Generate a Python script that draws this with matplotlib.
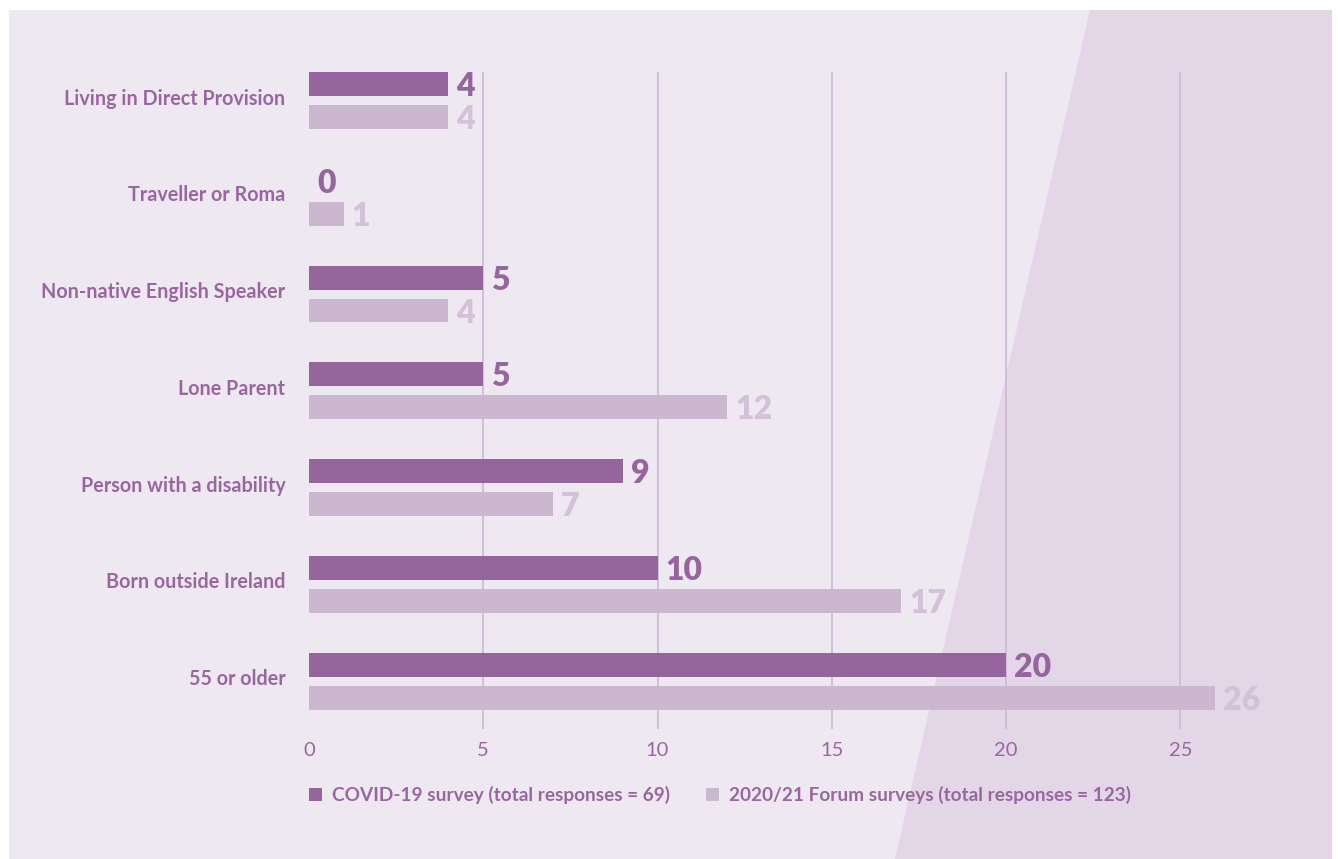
import matplotlib.pyplot as plt
from matplotlib.patches import Polygon, Patch
from matplotlib.transforms import ScaledTranslation

plt.rcParams['font.family'] = ['Lato', 'DejaVu Sans']

categories = ['Living in Direct Provision', 'Traveller or Roma', 'Non-native English Speaker',
              'Lone Parent', 'Person with a disability', 'Born outside Ireland', '55 or older']
covid = [4, 0, 5, 5, 9, 10, 20]
forum = [4, 1, 4, 12, 7, 17, 26]
xticks = [0, 5, 10, 15, 20, 25]
legend_labels = ['COVID-19 survey (total responses = 69)',
                 '2020/21 Forum surveys (total responses = 123)']

DARK = '#97659e'
LIGHT = '#cbb7d0'
LIGHT_TXT = '#d3c1d9'
TEXT = '#9a66a2'
PANEL = '#eee8f0'
SHADE = '#e2d6e7'
GRID = '#cdb8d6'

W, H = 1338, 859
fig = plt.figure(figsize=(W / 100, H / 100), dpi=100)
fig.patch.set_facecolor('white')

# background panel with the slanted band on the right
def px(x, y):
    return (x / W, 1 - y / H)

fig.patches.append(Polygon([px(9, 10), px(1332, 10), px(1332, 859), px(9, 859)],
                           closed=True, transform=fig.transFigure,
                           facecolor=PANEL, edgecolor='none', zorder=-2))
fig.patches.append(Polygon([px(1090, 10), px(1332, 10), px(1332, 859), px(895, 859)],
                           closed=True, transform=fig.transFigure,
                           facecolor=SHADE, edgecolor='none', zorder=-1))

ax = fig.add_axes([309 / W, 1 - 729 / H, 975.8 / W, 657 / H])
ax.patch.set_alpha(0)
for s in ax.spines.values():
    s.set_visible(False)

pos = list(range(len(categories)))
h = 0.248
off = 0.1705
b1 = ax.barh([p - off for p in pos], covid, height=h, color=DARK, zorder=3)
b2 = ax.barh([p + off for p in pos], forum, height=h, color=LIGHT, zorder=3)

for bar, v in zip(b1, covid):
    ax.annotate(str(v), (bar.get_width(), bar.get_y() + bar.get_height() / 2),
                xytext=(8, 0), textcoords='offset pixels', va='center_baseline',
                ha='left', fontsize=23, fontweight='heavy', color=DARK)
for bar, v in zip(b2, forum):
    ax.annotate(str(v), (bar.get_width(), bar.get_y() + bar.get_height() / 2),
                xytext=(8, 0), textcoords='offset pixels', va='center_baseline',
                ha='left', fontsize=23, fontweight='heavy', color=LIGHT_TXT)

# vertical guide lines (none at zero)
for t in xticks[1:]:
    ax.axvline(t, color=GRID, lw=1.2, zorder=1)

ax.set_xlim(0, 28)
ax.set_ylim(6.496, -0.2946)
ax.set_xticks(xticks)
ax.set_xticklabels([str(t) for t in xticks], fontsize=14.5, fontweight='normal', color=TEXT)
ax.tick_params(axis='x', length=0, pad=9)
ax.set_yticks(pos)
ax.set_yticklabels(categories, fontsize=14.2, fontweight='bold', color=TEXT)
ax.tick_params(axis='y', length=0, pad=17)
lift = ScaledTranslation(0, 4 / 100, fig.dpi_scale_trans)
for lab in ax.get_yticklabels():
    lab.set_transform(lab.get_transform() + lift)

handles = [Patch(facecolor=DARK), Patch(facecolor=LIGHT)]
fig.legend(handles, legend_labels, loc='center left', bbox_to_anchor=(292 / W, 1 - 795 / H),
           ncol=2, frameon=False, handlelength=0.7, handleheight=0.7, handletextpad=0.5,
           columnspacing=1.9, prop={'size': 13.7, 'weight': 'bold'}, labelcolor=TEXT)

fig.savefig('out.png', dpi=100)
